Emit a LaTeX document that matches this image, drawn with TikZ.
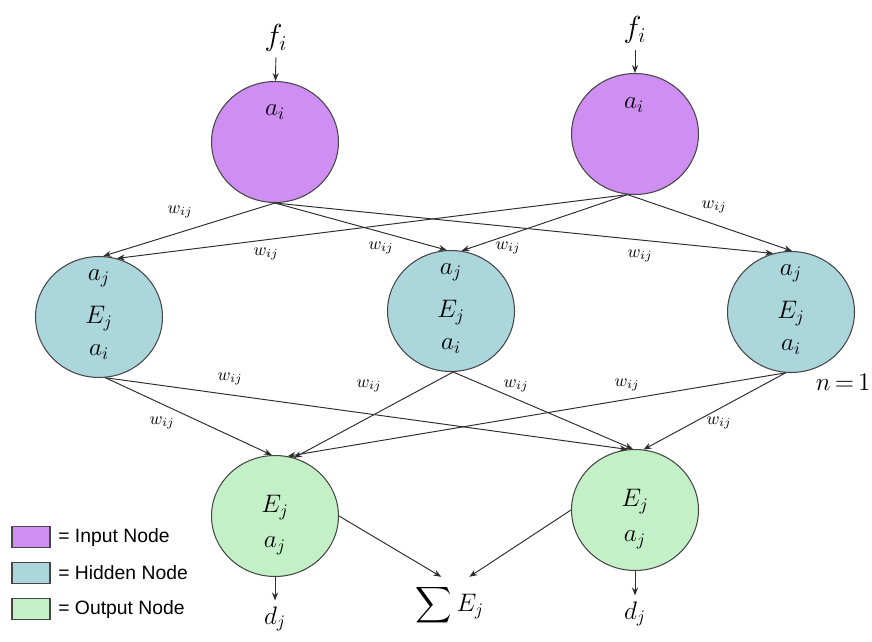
\documentclass[tikz,border=0pt]{standalone}
\usepackage{amsmath}
\usepackage{fontspec}
\newfontfamily\legendfont{Liberation Sans}
\usetikzlibrary{shapes.geometric, arrows.meta}
\begin{document}
\begin{tikzpicture}[x=0.02cm, y=-0.02cm, >={Stealth[length=4.5pt, width=3.5pt]}, font=\Large,
		neuron/.style={ellipse, draw=gray!55!black, line width=0.6pt, minimum width=2.54cm, minimum height=2.42cm, inner sep=0pt},
		link/.style={->, line width=0.55pt, gray!35!black},
		wlab/.style={font=\normalsize, inner sep=1pt},
		keybox/.style={draw=gray!55!black, line width=0.6pt, minimum width=0.76cm, minimum height=0.42cm, inner sep=0pt},
		keytext/.style={anchor=west, inner sep=0pt, font=\legendfont\fontsize{11}{13}\selectfont}]
			\definecolor{inputviolet}{RGB}{206,142,242}
			\definecolor{hiddenteal}{RGB}{170,214,220}
			\definecolor{outputgreen}{RGB}{196,240,200}
			\useasboundingbox (0,0) rectangle (872,642);
			% layers
			\node[neuron, fill=inputviolet] (inL) at (275,142) {};
			\node[neuron, fill=inputviolet] (inR) at (635,134) {};
			\node[neuron, fill=hiddenteal] (hidL) at (99,317) {};
			\node[neuron, fill=hiddenteal] (hidM) at (451,311) {};
			\node[neuron, fill=hiddenteal] (hidR) at (791,312) {};
			\node[neuron, fill=outputgreen] (outL) at (275,516) {};
			\node[neuron, fill=outputgreen] (outR) at (635,510) {};
			% texts in the nodes
			\node (aiL) at (275,112) {$a_i$};
			\node (aiR) at (634,105) {$a_i$};
			\foreach \h in {hidL,hidM,hidR} {
				\node (\h-aj) at ([yshift=22pt]\h.center) {$a_j$};
				\node (\h-E) at ([yshift=-1pt]\h.center) {$E_j$};
				\node (\h-ai) at ([yshift=-20pt]\h.center) {$a_i$};
			}
			\foreach \o in {outL,outR} {
				\node (\o-E) at ([yshift=5pt]\o.center) {$E_j$};
				\node (\o-aj) at ([yshift=-17pt]\o.center) {$a_j$};
			}
			% inputs and outputs
			\node[font=\LARGE] (fL) at (276,38) {$f_i$};
			\node[font=\LARGE] (fR) at (635,30) {$f_i$};
			\draw[link] (fL) -- (inL);
			\draw[link] (fR) -- (inR);
			\node (dL) at (275,619) {$d_j$};
			\node (dR) at (635,614) {$d_j$};
			\draw[link] (outL) -- (dL);
			\draw[link] (outR) -- (dR);
			\node (sumE) at (450,605) {$\displaystyle\sum E_j$};
			\draw[link] (outL.east) -- ([xshift=-5pt, yshift=1pt]sumE.north);
			\draw[link] (outR.west) -- ([xshift=11pt, yshift=1pt]sumE.north);
			\node[anchor=east, inner sep=0pt] (nOne) at (871,382) {$n\,{=}\,1$};
			% input -> hidden
			\draw[link] (inL.south) -- (hidL.86);
			\draw[link] (inR.-97) -- (hidL.73);
			\draw[link] (inL.south) -- (hidM.94);
			\draw[link] (inR.-97) -- (hidM.80);
			\draw[link] (inL.south) -- (hidR.107);
			\draw[link] (inR.-97) -- (hidR.89);
			% hidden -> output
			\draw[link] (hidL.-84) -- (outL.93);
			\draw[link] (hidM.-88) -- (outL.72);
			\draw[link] (hidR.-95) -- (outL.78);
			\draw[link] (hidL.-84) -- (outR.97);
			\draw[link] (hidM.-88) -- (outR.92);
			\draw[link] (hidR.-95) -- (outR.82);
			% weights
			\node[wlab] (w1) at (180,212) {$w_{ij}$};
			\node[wlab] (w2) at (266,254) {$w_{ij}$};
			\node[wlab] (w3) at (381,248) {$w_{ij}$};
			\node[wlab] (w4) at (508,248) {$w_{ij}$};
			\node[wlab] (w5) at (640,256) {$w_{ij}$};
			\node[wlab] (w6) at (714,207) {$w_{ij}$};
			\node[wlab] (w7) at (230,379) {$w_{ij}$};
			\node[wlab] (w8) at (369,386) {$w_{ij}$};
			\node[wlab] (w9) at (516,386) {$w_{ij}$};
			\node[wlab] (w10) at (627,385) {$w_{ij}$};
			\node[wlab] (w11) at (162,423) {$w_{ij}$};
			\node[wlab] (w12) at (719,423) {$w_{ij}$};
			% legend
			\node[keybox, fill=inputviolet] (keyIn) at (31,537) {};
			\node[keybox, fill=hiddenteal] (keyHid) at (31,573) {};
			\node[keybox, fill=outputgreen] (keyOut) at (31,609) {};
			\node[keytext] (txtIn) at (58,537) {= Input Node};
			\node[keytext] (txtHid) at (58,573) {= Hidden Node};
			\node[keytext] (txtOut) at (58,609) {= Output Node};
		\end{tikzpicture}
\end{document}
